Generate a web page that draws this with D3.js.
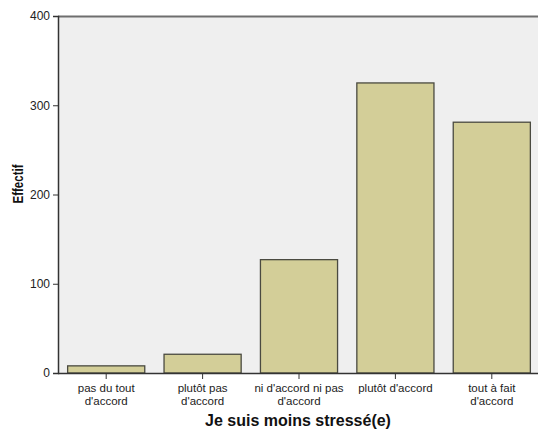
<!DOCTYPE html>
<html><head><meta charset="utf-8">
<script src="https://cdn.jsdelivr.net/npm/d3@7"></script>
<style>body{margin:0;background:#fff}svg{display:block}text{font-family:"Liberation Sans",Arial,sans-serif}</style>
</head><body>
<script>
const categories = [["pas du tout","d'accord"],["plutôt pas","d'accord"],["ni d'accord ni pas","d'accord"],["plutôt d'accord"],["tout à fait","d'accord"]];
const catKeys = ["pas du tout d'accord","plutôt pas d'accord","ni d'accord ni pas d'accord","plutôt d'accord","tout à fait d'accord"];
const values = [8, 21, 127, 325, 281];
const yTicks = [0, 100, 200, 300, 400];
const xTitle = "Je suis moins stressé(e)";
const yTitle = "Effectif";

const W = 538, H = 429;
const L = 58, R = 540, T = 16, B = 373;
const svg = d3.select("body").append("svg").attr("width", W).attr("height", H);

const x = d3.scaleBand().domain(catKeys).range([L, R]).paddingInner(0.2).paddingOuter(0.1);
const y = d3.scaleLinear().domain([0, 400]).range([B, T]);

svg.append("rect").attr("x", L).attr("y", T).attr("width", W - L).attr("height", B - T).attr("fill", "#efefef");
svg.append("line").attr("x1", L).attr("x2", W).attr("y1", T + 0.5).attr("y2", T + 0.5).attr("stroke", "#6e6e6e").attr("stroke-width", 2);

svg.selectAll("rect.bar").data(values).join("rect").attr("class", "bar")
  .attr("x", (d, i) => x(catKeys[i]))
  .attr("y", d => y(d))
  .attr("width", x.bandwidth())
  .attr("height", d => y(0) - y(d))
  .attr("fill", "#d3ce98").attr("stroke", "#4a4a40").attr("stroke-width", 1.3);

const yAxis = svg.append("g").attr("transform", `translate(${L},0)`)
  .call(d3.axisLeft(y).tickValues(yTicks).tickSize(5).tickPadding(3));
yAxis.select(".domain").attr("stroke", "#333").attr("stroke-width", 1.5);
yAxis.selectAll(".tick line").attr("stroke", "#333");
yAxis.selectAll("text").attr("font-size", 12).attr("fill", "#222").style("font-family", "Liberation Sans, Arial, sans-serif");

const xAxis = svg.append("g").attr("transform", `translate(0,${B})`)
  .call(d3.axisBottom(x).tickSize(6).tickFormat(""));
xAxis.select(".domain").attr("d", `M${L},0.5H${W}`).attr("stroke", "#333").attr("stroke-width", 1.5);
xAxis.selectAll(".tick line").attr("stroke", "#333");
xAxis.selectAll(".tick").each(function(d, i) {
  categories[i].forEach((line, j) => {
    d3.select(this).append("text").attr("fill", "#222").attr("font-size", 11.5)
      .attr("text-anchor", "middle").style("font-family", "Liberation Sans, Arial, sans-serif")
      .attr("x", 0).attr("y", 18.5 + j * 13).text(line);
  });
});

svg.append("text").attr("x", 298).attr("y", 426).attr("text-anchor", "middle")
  .attr("font-size", 16).attr("font-weight", "bold").attr("fill", "#111").text(xTitle);
svg.append("text").attr("transform", `translate(23,184) rotate(-90)`).attr("text-anchor", "middle")
  .attr("font-size", 15).attr("font-weight", "bold").attr("fill", "#111")
  .attr("textLength", 39).attr("lengthAdjust", "spacingAndGlyphs").text(yTitle);
</script>
</body></html>
